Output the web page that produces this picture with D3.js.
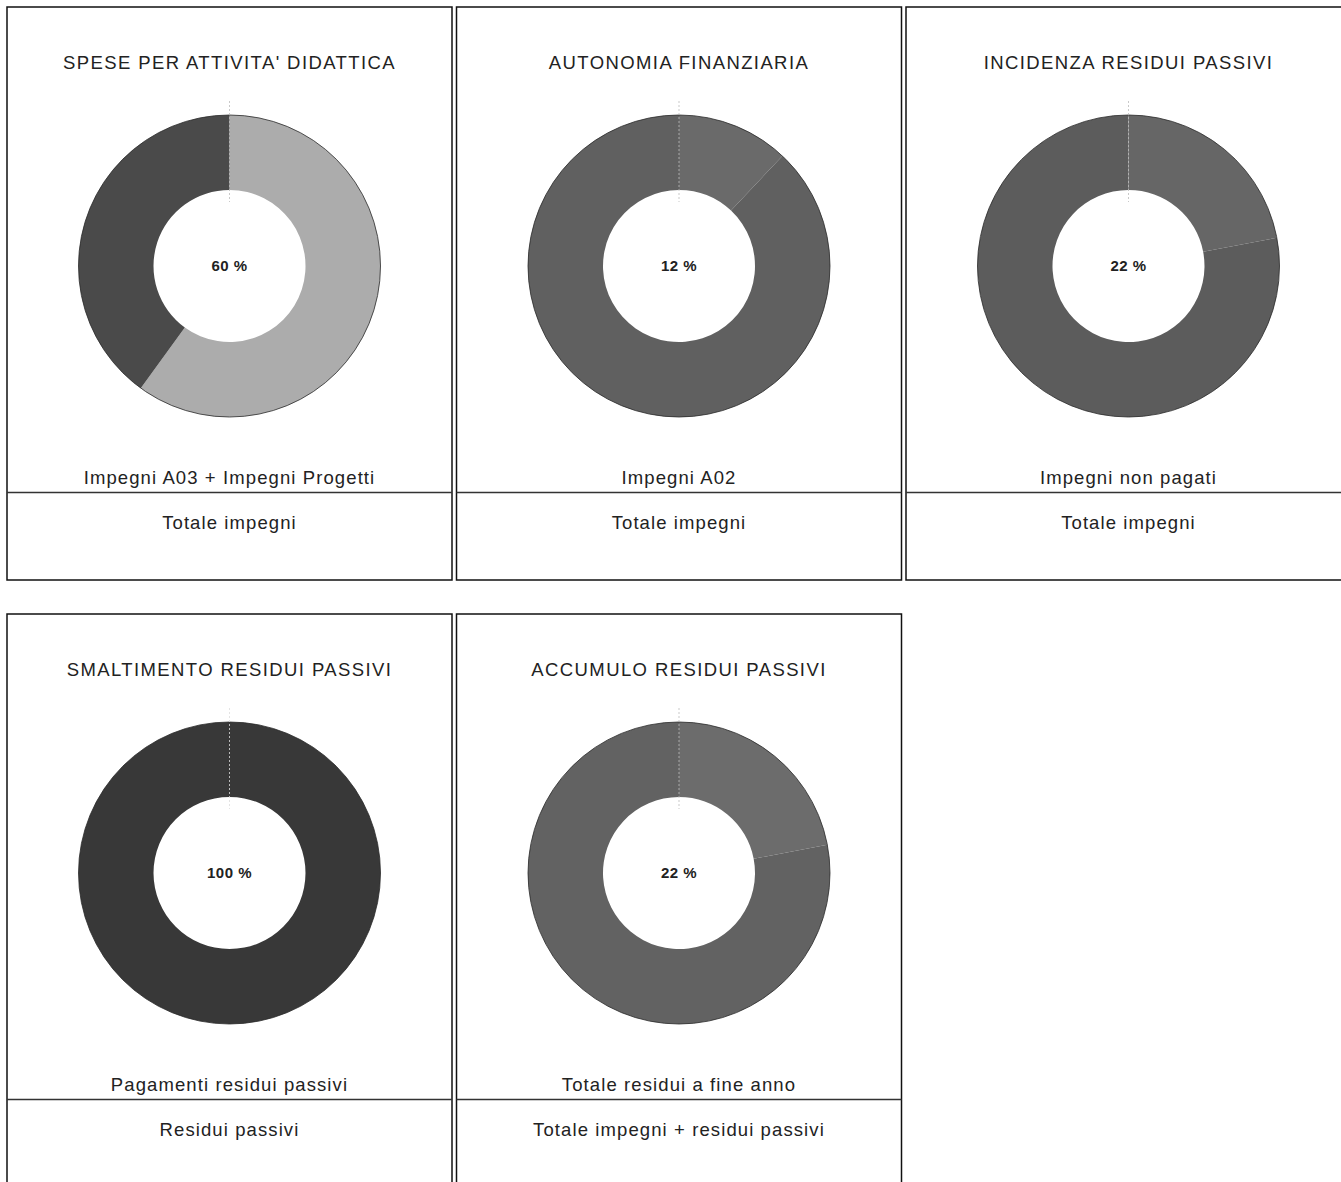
<!DOCTYPE html>
<html>
<head>
<meta charset="utf-8">
<script src="https://cdn.jsdelivr.net/npm/d3@7"></script>
<style>
  body { margin: 0; background: #fff; }
  svg { display: block; }
</style>
</head>
<body>
<div id="chart"></div>
<script>
const titles = [
  "SPESE PER ATTIVITA' DIDATTICA",
  "AUTONOMIA FINANZIARIA",
  "INCIDENZA RESIDUI PASSIVI",
  "SMALTIMENTO RESIDUI PASSIVI",
  "ACCUMULO RESIDUI PASSIVI"
];
const percentages = [60, 12, 22, 100, 22];
const numerators = [
  "Impegni A03 + Impegni Progetti",
  "Impegni A02",
  "Impegni non pagati",
  "Pagamenti residui passivi",
  "Totale residui a fine anno"
];
const denominators = [
  "Totale impegni",
  "Totale impegni",
  "Totale impegni",
  "Residui passivi",
  "Totale impegni + residui passivi"
];
// [share colour, remainder colour] per panel
const sliceColors = [
  ["#acacac", "#4a4a4a"],
  ["#6a6a6a", "#606060"],
  ["#666666", "#5c5c5c"],
  ["#383838", "#383838"],
  ["#6c6c6c", "#626262"]
];

function main() {
  const width = 1341;
  const height = 1182;
  const font = "'Liberation Sans', Arial, sans-serif";

  const svg = d3
    .select("#chart")
    .append("svg")
    .attr("width", width)
    .attr("height", height);

  const panelW = 445;
  const panelH = 573;
  const stepX = 449.5;
  const stepY = 607;
  const rOuter = 151;
  const rInner = 76;

  const pie = d3.pie().value((d) => d).sort(null);
  const arc = d3.arc().innerRadius(rInner).outerRadius(rOuter);

  const panels = svg
    .selectAll(".panel")
    .data(titles)
    .enter()
    .append("g")
    .attr("class", "panel")
    .attr("transform", (d, i) => `translate(${7 + (i % 3) * stepX}, ${7 + Math.floor(i / 3) * stepY})`);

  panels
    .append("rect")
    .attr("width", panelW)
    .attr("height", panelH)
    .attr("fill", "none")
    .attr("stroke", "#111")
    .attr("stroke-width", 1.5);

  panels
    .append("text")
    .attr("x", panelW / 2)
    .attr("y", 56)
    .attr("dy", ".35em")
    .attr("text-anchor", "middle")
    .style("font-family", font)
    .style("font-size", "18.5px")
    .style("letter-spacing", "1.4px")
    .style("fill", "#222")
    .text((d) => d);

  panels.each(function (d, i) {
    const g = d3.select(this);
    const donut = g.append("g").attr("transform", `translate(${panelW / 2}, 259)`);
    const v = percentages[i];

    donut
      .selectAll("path.slice")
      .data(pie([v, 100 - v]))
      .enter()
      .append("path")
      .attr("class", "slice")
      .attr("d", arc)
      .attr("fill", (p, j) => sliceColors[i][j]);

    // thin dark rim round the outside of the ring
    donut
      .append("circle")
      .attr("r", rOuter)
      .attr("fill", "none")
      .attr("stroke", "#2a2a2a")
      .attr("stroke-width", 0.8);

    // faint dotted marker at 12 o'clock where the slices start
    donut
      .append("line")
      .attr("x1", 0)
      .attr("x2", 0)
      .attr("y1", -rOuter - 14)
      .attr("y2", -rInner + 12)
      .attr("stroke", v > 0 && v < 100 ? "#bbbbbb" : "#dddddd")
      .attr("stroke-width", 0.8)
      .attr("stroke-dasharray", "2,2");

    donut
      .append("text")
      .attr("y", 0)
      .attr("dy", ".35em")
      .attr("text-anchor", "middle")
      .style("font-family", font)
      .style("font-size", "15px")
      .style("font-weight", "bold")
      .style("letter-spacing", "0.5px")
      .style("fill", "#222")
      .text(`${v} %`);

    g.append("text")
      .attr("x", panelW / 2)
      .attr("y", 471)
      .attr("dy", ".35em")
      .attr("text-anchor", "middle")
      .style("font-family", font)
      .style("font-size", "18.5px")
      .style("letter-spacing", "1.1px")
      .style("fill", "#222")
      .text(numerators[i]);

    g.append("line")
      .attr("x1", 0)
      .attr("x2", panelW)
      .attr("y1", 485.5)
      .attr("y2", 485.5)
      .attr("stroke", "#333")
      .attr("stroke-width", 1.5);

    g.append("text")
      .attr("x", panelW / 2)
      .attr("y", 516)
      .attr("dy", ".35em")
      .attr("text-anchor", "middle")
      .style("font-family", font)
      .style("font-size", "18.5px")
      .style("letter-spacing", "1.1px")
      .style("fill", "#222")
      .text(denominators[i]);
  });
}

main();
</script>
</body>
</html>
